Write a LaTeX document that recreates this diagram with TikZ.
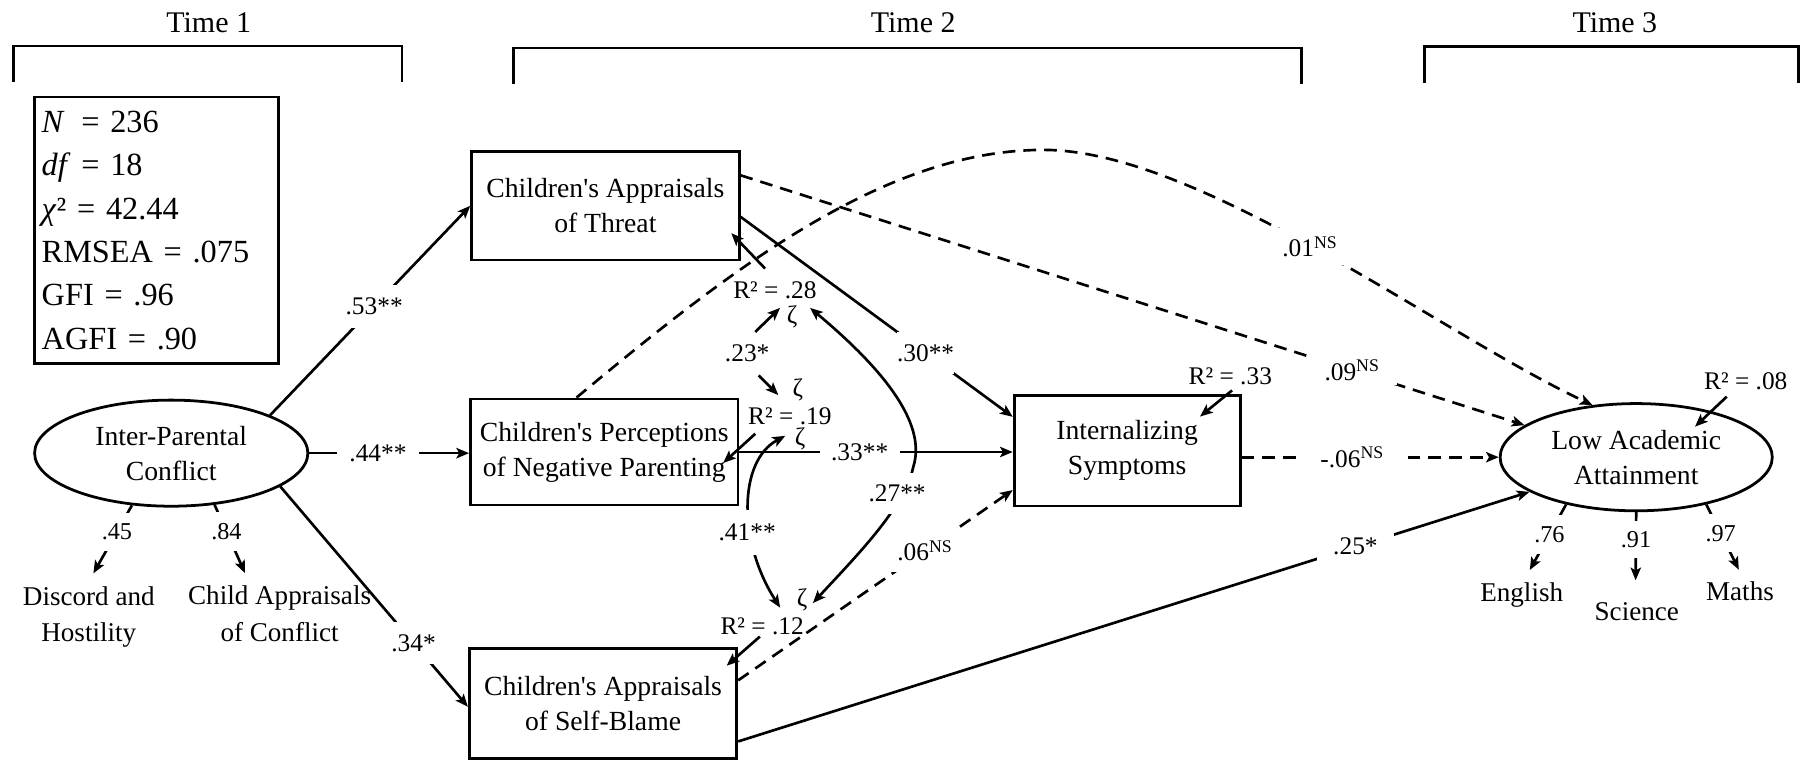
\documentclass[tikz,border=0pt]{standalone}
\usepackage{fontspec}
\setmainfont{Liberation Serif}
\usetikzlibrary{arrows.meta,shapes.geometric}
\begin{document}
\begin{tikzpicture}[x=1pt,y=-1pt,line width=2.3pt,
  >={Stealth[length=11pt,width=9pt,inset=2.5pt]},
  box/.style={draw,rectangle,line width=2.4pt,minimum width=232pt,minimum height=94pt,inner sep=0pt,align=center,font=\fontsize{24}{30.4}\selectfont},
  lat/.style={draw,ellipse,line width=2.4pt,minimum width=237pt,minimum height=92pt,inner sep=0pt,align=center,font=\fontsize{24}{30.4}\selectfont},
  lbl/.style={fill=white,inner sep=0pt,font=\fontsize{22}{26}\selectfont},
  ld/.style={fill=white,inner sep=0pt,font=\fontsize{21}{25}\selectfont},
  rsq/.style={inner sep=0pt,font=\fontsize{22}{26}\selectfont},
  zet/.style={inner sep=0pt,font=\fontsize{22}{26}\selectfont},
  ind/.style={inner sep=0pt,align=center,font=\fontsize{23.5}{31.8}\selectfont},
  tim/.style={inner sep=0pt,font=\fontsize{26}{30}\selectfont},
  dsh/.style={dash pattern=on 11pt off 7pt},
]
\useasboundingbox (0,0) rectangle (1568,659);

% time brackets
\node[tim] (t1) at (181,20) {Time 1};
\node[tim] (t2) at (792,20) {Time 2};
\node[tim] (t3) at (1400.5,20) {Time 3};
\draw (11.6,71) -- (11.6,40) -- (348.5,40) -- (348.5,71);
\draw (445.4,72.5) -- (445.4,41.5) -- (1129,41.5) -- (1129,72.5);
\draw (1235.4,72) -- (1235.4,40.5) -- (1560,40.5) -- (1560,72);

% fit statistics
\node[draw,line width=2.4pt,anchor=north west,inner xsep=6pt,inner ysep=12pt,text width=199pt,align=left,font=\fontsize{28}{37.6}\selectfont] (stats) at (29,83)
 {\textit{N}\hspace{5pt} = 236\\ \textit{df} = 18\\ \textit{χ}² = 42.44\\ RMSEA = .075\\ GFI = .96\\ AGFI = .90};

% main nodes
\node[lat] (ipc) at (148.5,393) {Inter-Parental\\Conflict};
\node[box] (thr) at (525,178.5) {Children\textquotesingle s Appraisals\\of Threat};
\node[box,minimum height=92pt] (per) at (524,392) {Children\textquotesingle s Perceptions\\of Negative Parenting};
\node[box,minimum height=95pt] (sb) at (523,610) {Children\textquotesingle s Appraisals\\of Self-Blame};
\node[box,minimum width=196pt,minimum height=95.5pt] (int) at (977.5,391) {Internalizing\\Symptoms};
\node[lat,minimum width=236pt,minimum height=93pt] (laa) at (1419,396.5) {Low Academic\\Attainment};

% indicators
\node[ind] (dis) at (77,535) {Discord and\\Hostility};
\node[ind] (cha) at (242.5,532.4) {Child Appraisals\\of Conflict};
\node[ind] (eng) at (1319.7,516.2) {English};
\node[ind] (sci) at (1419.5,530.3) {Science};
\node[ind] (mat) at (1509,513) {Maths};

% R squared and disturbances
\node[rsq] (r28) at (672,251.5) {R² = .28};
\node[rsq] (r19) at (685,360.6) {R² = .19};
\node[rsq] (r12) at (661,543.5) {R² = .12};
\node[rsq] (r33) at (1067,326) {R² = .33};
\node[rsq] (r08) at (1514,331) {R² = .08};
\node[zet] (zt) at (687,275) {ζ};
\node[zet] (zp1) at (692,338) {ζ};
\node[zet] (zp2) at (694,381) {ζ};
\node[zet] (zs) at (695.6,520) {ζ};

% measurement paths
\draw[->] (ipc.233) -- node[ld,inner xsep=1pt,inner ysep=9.5pt,pos=0.39] (l45) {.45} ([shift={(4,-10)}]dis.north);
\draw[->] (ipc.-50) -- node[ld,inner xsep=1pt,inner ysep=9.5pt,pos=0.39] (l84) {.84} ([shift={(-30,-10)}]cha.north);
\draw[->] (laa.214) -- node[ld,inner xsep=1pt,inner ysep=10pt,pos=0.46] (l76) {.76} ([shift={(7,-10)}]eng.north);
\draw[->] (laa.south) -- node[ld,inner xsep=1pt,inner ysep=8.7pt,pos=0.4] (l91) {.91} ([shift={(-1,-18)}]sci.north);
\draw[->] (laa.-34) -- node[ld,inner xsep=1pt,inner ysep=9.4pt,pos=0.44] (l97) {.97} ([shift={(-1,-9.5)}]mat.north);

% structural paths
\draw[->] (ipc.21) -- node[lbl,inner xsep=1pt,inner ysep=11pt,pos=0.52] (l53) {.53**} (thr.west);
\draw[->] (ipc.east) -- node[lbl,inner xsep=11pt,inner ysep=2pt,pos=0.43] (l44) {.44**} (ipc.east -| per.west);
\draw[->] (ipc.-17) -- node[lbl,inner xsep=1pt,inner ysep=11pt,pos=0.71] (l34) {.34*} ([yshift=-3pt]sb.west);
\draw[->] ([yshift=-9.5pt]thr.east) -- node[lbl,inner xsep=0pt,inner ysep=11pt,pos=0.68] (l30) {.30**} ([yshift=29.5pt]int.west);
\draw[->] (per.east) -- node[lbl,inner xsep=10pt,inner ysep=2pt,pos=0.44] (l33) {.33**} (per.east -| int.west);
\draw[dsh,->] ([yshift=20pt]sb.east) -- node[lbl,inner xsep=5pt,inner ysep=9pt,pos=0.68] (l06) {.06\textsuperscript{NS}} ([yshift=-34pt]int.west);
\draw[dsh,->] ([yshift=26.5pt]thr.east) -- node[lbl,inner xsep=15pt,inner ysep=4pt,pos=0.78] (l09) {.09\textsuperscript{NS}} (laa.164);
\draw[dsh,->] (laa.west -| int.east) -- node[lbl,inner xsep=14pt,inner ysep=2pt,pos=0.43] (lm06) {-.06\textsuperscript{NS}} (laa.west);
\draw[->] ([yshift=-33pt]sb.east) -- node[lbl,inner xsep=14pt,inner ysep=5pt,pos=0.78] (l25) {.25*} (laa.198);
\draw[dsh,->] ([xshift=-24pt]per.north) .. controls (640,228) and (770,130) .. (905,130) .. controls (1040,130) and (1250,290) .. (laa.130);
\node[lbl,inner xsep=10pt,inner ysep=7pt] (l01) at (1136,214) {.01\textsuperscript{NS}};

% R squared arrows
\draw[->] ([shift={(-8.5,-10)}]r28.north) -- ([shift={(-8,-24.5)}]thr.south east);
\draw[->] ([shift={(-30,7)}]r19.south) -- ([shift={(-14,9.5)}]per.east);
\draw[->] ([shift={(-2,0)}]r12.south) -- ([shift={(-10,16)}]sb.north east);
\draw[->] ([shift={(1.5,4)}]r33.south) -- ([shift={(-36,19.2)}]int.north east);
\draw[->] ([shift={(-16.5,4.4)}]r08.south) -- ([shift={(51,-26.5)}]laa.center);

% disturbance covariances
\node[rsq] (l23) at (648,306) {.23*};
\draw[->] ([shift={(7,-9.6)}]l23.north) -- ([shift={(-10.5,-8)}]zt.center);
\draw[->] ([shift={(10,11)}]l23.south) -- ([shift={(-17,4.6)}]zp1.center);
\draw[<->] ([shift={(-13,-3)}]zp2.center) .. controls (640,400) and (640,470) .. ([shift={(-19,7)}]zs.center);
\node[lbl,inner xsep=1pt,inner ysep=12pt] (l41) at (648,462) {.41**};
\draw[<->] ([shift={(15.5,-8)}]zt.center) .. controls (790,340) and (800,380) .. (792,405) .. controls (785,440) and (740,485) .. ([shift={(9.4,3)}]zs.center);
\node[lbl,inner xsep=1pt,inner ysep=10pt] (l27) at (778,428) {.27**};
\end{tikzpicture}
\end{document}
